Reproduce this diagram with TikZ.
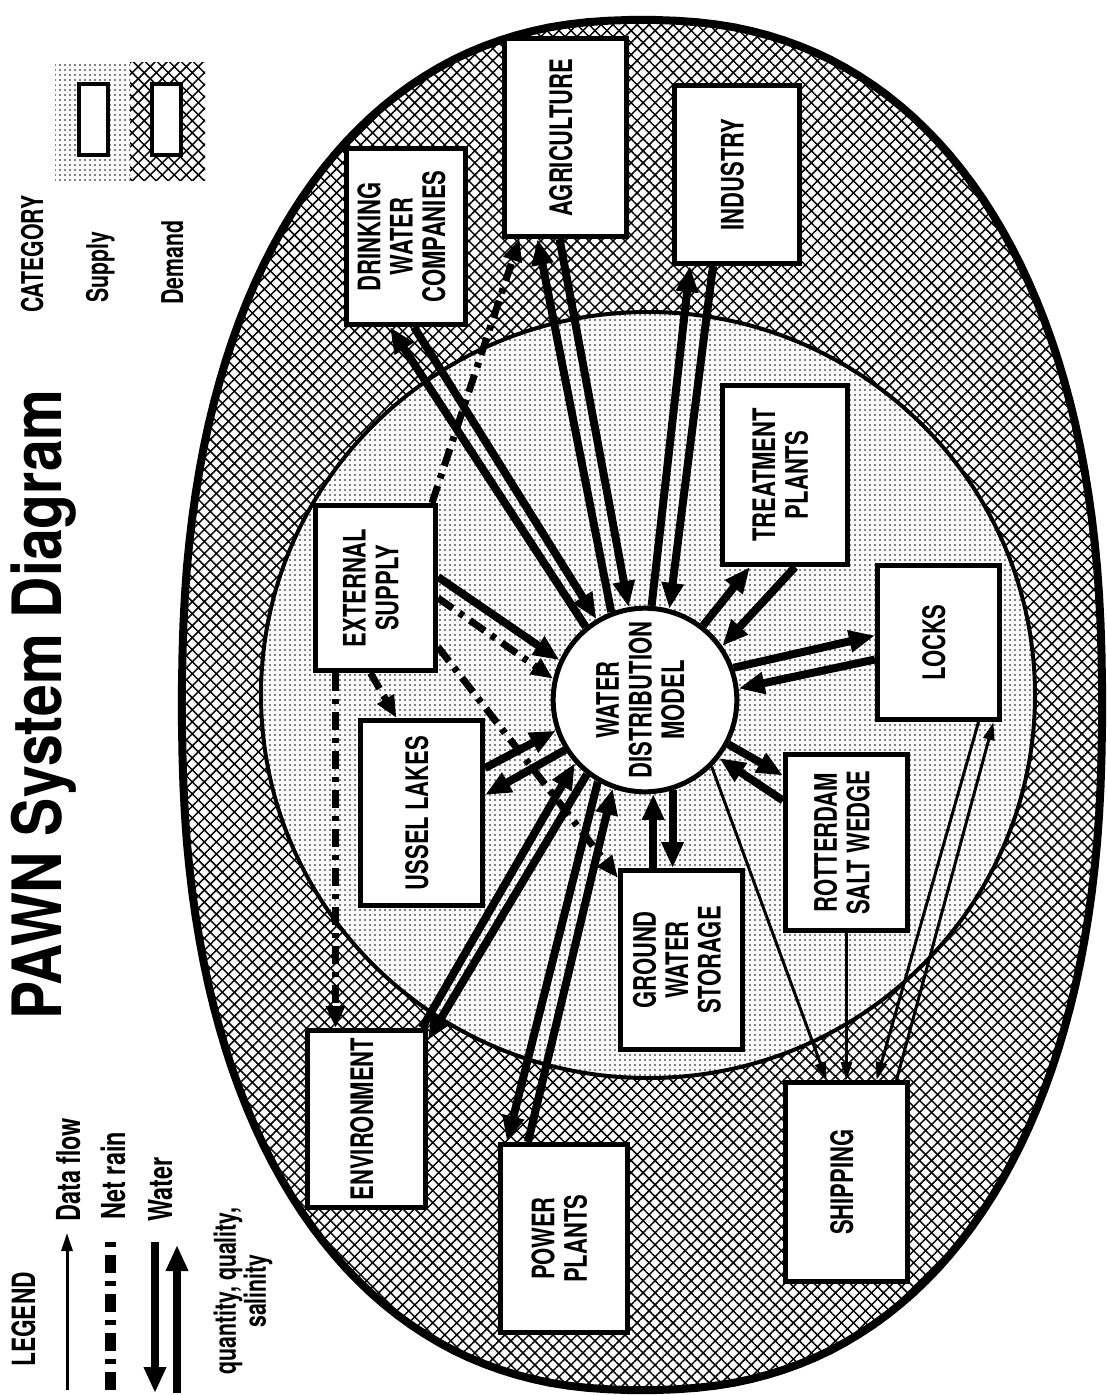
\documentclass[tikz,border=0pt]{standalone}
\usepackage{fontspec}
\usepackage{graphicx}
\setmainfont{TeX Gyre Heros}
\newfontfamily\lblfont{TeX Gyre Heros}[FakeStretch=0.71]
\newfontfamily\ttlfont{TeX Gyre Heros}[FakeStretch=0.84]
\usetikzlibrary{arrows.meta}
\usetikzlibrary{patterns.meta}

\newcommand{\vlabel}[1]{\rotatebox{90}{\begin{tabular}{@{}c@{}}#1\end{tabular}}}

\tikzset{
  dotfill/.style={preaction={fill=white}, pattern={Dots[distance=5pt, radius=0.9pt]}},
  hatchfill/.style={pattern={Lines[angle=45, distance=8.5pt, line width=1.5pt]},
    postaction={pattern={Lines[angle=-45, distance=8.5pt, line width=1.5pt]}}},
  box/.style={draw, rectangle, line width=5pt, fill=white, inner sep=0pt,
    font=\lblfont\bfseries\fontsize{31}{32}\selectfont},
  keybox/.style={draw, rectangle, line width=4pt, fill=white, inner sep=0pt,
    minimum width=29pt, minimum height=71pt},
  water/.style={line width=8pt, -{Triangle[length=26pt, width=21pt]}},
  data/.style={line width=3pt, -{Triangle[length=18pt, width=11pt]}},
  rain/.style={line width=7pt, dash pattern=on 18pt off 8pt on 5pt off 8pt,
    -{Triangle[length=22pt, width=18pt]}},
  legtxt/.style={rotate=90, anchor=base west, inner sep=0pt,
    font=\lblfont\bfseries\fontsize{33}{34}\selectfont}
}

\begin{document}
\begin{tikzpicture}[x=1pt, y=-1pt]
\useasboundingbox (0,0) rectangle (1106,1395);

\draw[line width=8pt, hatchfill] plot[domain=1:361, samples=181]
  ({642+460*sign(cos(\x))*abs(cos(\x))^0.87}, {705+685*sign(sin(\x))*abs(sin(\x))^0.87}) -- cycle;
\draw[line width=4pt, dotfill] (648,695) ellipse [x radius=387, y radius=383];

\path[dotfill] (55,62) rectangle (130,180);
\path[hatchfill] (130,62) rectangle (205,180);
\node[keybox] (supkey) at (93.5,119.5) {};
\node[keybox] (demkey) at (166.5,119.5) {};

\node[rotate=90, anchor=base west, inner sep=0pt,
  font=\ttlfont\bfseries\fontsize{68}{70}\selectfont] (title) at (61,1020) {PAWN System Diagram};

\node[legtxt, font=\lblfont\bfseries\fontsize{30}{31}\selectfont] (category) at (43,313) {CATEGORY};
\node[legtxt, font=\lblfont\bfseries\fontsize{30}{31}\selectfont] (supply) at (108,303) {Supply};
\node[legtxt, font=\lblfont\bfseries\fontsize{30}{31}\selectfont] (demand) at (183,305) {Demand};

\node[legtxt, font=\lblfont\bfseries\fontsize{32}{33}\selectfont] (legend) at (35,1367) {LEGEND};
\node[legtxt] (dataflow) at (80,1222) {Data flow};
\node[legtxt] (netrain) at (125,1220) {Net rain};
\node[legtxt] (watertxt) at (172,1222) {Water};
\node[rotate=90, align=center, inner sep=0pt,
  font=\lblfont\bfseries\fontsize{30}{27}\selectfont] (qqs) at (243,1291) {quantity, quality,\\salinity};

\coordinate (df1) at (67,1390);
\coordinate (df2) at (67,1233);
\coordinate (nr1) at (110,1390);
\coordinate (nr2) at (110,1240);
\coordinate (wd1) at (155,1242);
\coordinate (wd2) at (155,1393);
\coordinate (wu1) at (177,1393);
\coordinate (wu2) at (177,1245);
\draw[data] (df1) -- (df2);
\draw[rain, -, line width=11pt] (nr1) -- (nr2);
\draw[water] (wd1) -- (wd2);
\draw[water] (wu1) -- (wu2);

\node[draw, circle, line width=5pt, fill=white, inner sep=0pt, minimum size=182pt,
  font=\lblfont\bfseries\fontsize{31}{32}\selectfont] (hub) at (645,700)
  {\vlabel{WATER\\DISTRIBUTION\\MODEL}};

\node[box, minimum width=119pt, minimum height=176pt] (dwc) at (406,236.5) {\vlabel{DRINKING\\WATER\\COMPANIES}};
\node[box, minimum width=122pt, minimum height=198pt] (agr) at (565.5,137.5) {\vlabel{AGRICULTURE}};
\node[box, minimum width=125pt, minimum height=178pt] (ind) at (737,174.5) {\vlabel{INDUSTRY}};
\node[box, minimum width=125pt, minimum height=179pt] (trt) at (785,475) {\vlabel{TREATMENT\\PLANTS}};
\node[box, minimum width=122pt, minimum height=154pt] (lck) at (938.5,642.5) {\vlabel{LOCKS}};
\node[box, minimum width=122pt, minimum height=176pt] (rsw) at (846.5,842.5) {\vlabel{ROTTERDAM\\SALT WEDGE}};
\node[box, minimum width=122pt, minimum height=199pt] (shp) at (846.5,1182) {\vlabel{SHIPPING}};
\node[box, minimum width=122pt, minimum height=179pt] (gws) at (681.5,960) {\vlabel{GROUND\\WATER\\STORAGE}};
\node[box, minimum width=127pt, minimum height=188pt] (pwr) at (564,1238.5) {\vlabel{POWER\\PLANTS}};
\node[box, minimum width=118pt, minimum height=177pt] (env) at (366.5,1119) {\vlabel{ENVIRONMENT}};
\node[box, minimum width=122pt, minimum height=185pt] (usl) at (421.5,813) {\vlabel{USSEL LAKES}};
\node[box, minimum width=120pt, minimum height=165pt] (ext) at (375.5,588) {\vlabel{EXTERNAL\\SUPPLY}};

\draw[water] (hub.129) -- ([xshift=-16pt]dwc.south);
\draw[water] ([xshift=8pt]dwc.south) -- (hub.121);
\draw[water] (hub.111) -- ([xshift=-28pt]agr.south);
\draw[water] ([xshift=-6pt]agr.south) -- (hub.100);
\draw[water] (hub.86) -- ([xshift=-47pt]ind.south);
\draw[water] ([xshift=-24pt]ind.south) -- (hub.75);
\draw[water] (hub.52) -- ([xshift=-35pt]trt.south);
\draw[water] ([xshift=10pt]trt.south) -- (hub.35);
\draw[water] (hub.20) -- ([yshift=7pt]lck.west);
\draw[water] ([yshift=-17pt]lck.west) -- (hub.7);
\draw[water] (hub.-28) -- ([yshift=67pt]rsw.west);
\draw[water] ([yshift=42pt]rsw.west) -- (hub.-38);
\draw[water] (hub.-85 |- gws.north) -- (hub.-85);
\draw[water] (hub.-73) -- (hub.-73 |- gws.north);
\draw[water] ([yshift=11pt]ext.east) -- (hub.155);
\draw[water] ([yshift=45pt]usl.east) -- (hub.199);
\draw[water] (hub.212) -- ([yshift=18pt]usl.east);
\draw[water] ([xshift=-6pt]env.north east) -- (hub.222);
\draw[water] (hub.232) -- ([yshift=-12pt]env.north east);
\draw[water] (hub.240) -- ([xshift=-57pt]pwr.north);
\draw[water] ([xshift=-36pt]pwr.north) -- (hub.250);

\draw[data] (hub.-45) -- ([xshift=-20pt]shp.north);
\draw[data] (rsw.south) -- (shp.north);
\draw[data] ([xshift=40pt]lck.south) -- ([xshift=30pt]shp.north);
\draw[data] ([xshift=50pt]shp.north) -- ([xshift=55pt]lck.south);

\draw[rain] ([xshift=-6pt]ext.north east) -- ([xshift=-46pt]agr.south);
\draw[rain] ([yshift=-10pt]ext.east) -- (hub.167);
\draw[rain] ([xshift=-5pt]ext.south) -- ([xshift=-25pt]usl.north);
\draw[rain] ([xshift=-40pt]ext.south) -- ([xshift=-31pt]env.north);
\draw[rain] ([yshift=-59pt]ext.east) -- ([yshift=-10pt]gws.north west);
\end{tikzpicture}
\end{document}
